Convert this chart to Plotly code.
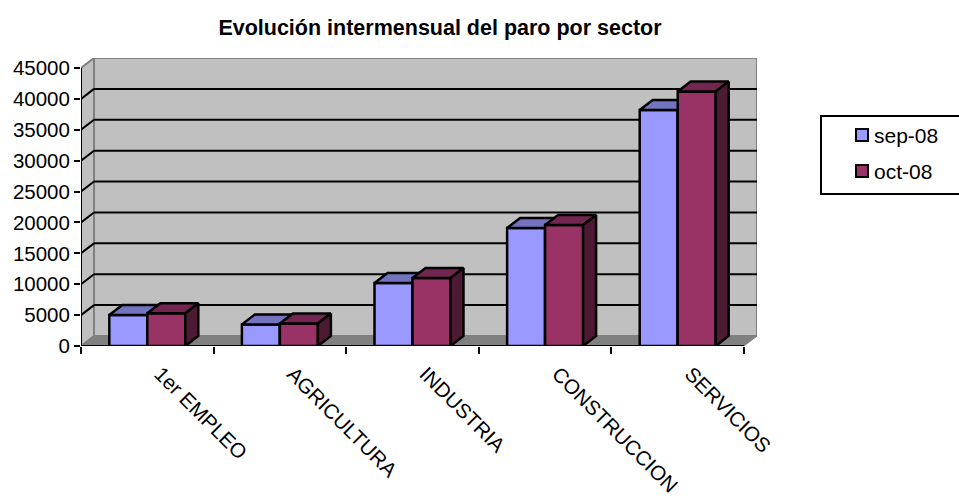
import plotly.graph_objects as go

categories = ["1er EMPLEO", "AGRICULTURA", "INDUSTRIA", "CONSTRUCCION", "SERVICIOS"]
sep_08 = [5000, 3500, 10200, 19100, 38200]
oct_08 = [5300, 3650, 11000, 19600, 41200]
y_ticks = [0, 5000, 10000, 15000, 20000, 25000, 30000, 35000, 40000, 45000]

FONT = "Liberation Sans"
BAR_W = 0.2865
# depth of the fake 3D box, in axis units
DX = 13 / 132.6
DY = 1618
Y_MAX = 45000
X_LO, X_HI = -0.5, 4.5
GREY = "#808080"
WALL = "#C0C0C0"
EDGE = 2.5


def faces(values, left, top_color, side_color, xaxis, yaxis):
    """Top and side faces of the bars of one series, as filled scatters."""
    top_x, top_y, side_x, side_y = [], [], [], []
    for i, v in enumerate(values):
        x0 = i + left
        x1 = x0 + BAR_W
        top_x += [x0, x0 + DX, x1 + DX, x1, x0, None]
        top_y += [v, v + DY, v + DY, v, v, None]
        side_x += [x1, x1 + DX, x1 + DX, x1, x1, None]
        side_y += [0, DY, v + DY, v, 0, None]
    common = dict(mode="lines", fill="toself", line=dict(color="black", width=EDGE),
                  showlegend=False, hoverinfo="skip", xaxis=xaxis, yaxis=yaxis)
    return [go.Scatter(x=top_x, y=top_y, fillcolor=top_color, **common),
            go.Scatter(x=side_x, y=side_y, fillcolor=side_color, **common)]


positions = list(range(len(categories)))

fig = go.Figure()
fig.add_trace(go.Bar(x=positions, y=sep_08, width=BAR_W, offset=-BAR_W, name="sep-08",
                     marker=dict(color="#9999FF", line=dict(color="black", width=EDGE)),
                     showlegend=False, xaxis="x", yaxis="y"))
for tr in faces(sep_08, -BAR_W, "#7373BF", "#4D4D80", "x", "y"):
    fig.add_trace(tr)
# second series sits on an overlaid subplot so it paints over the first one's faces
fig.add_trace(go.Bar(x=positions, y=oct_08, width=BAR_W, offset=0, name="oct-08",
                     marker=dict(color="#993366", line=dict(color="black", width=EDGE)),
                     showlegend=False, xaxis="x2", yaxis="y2"))
for tr in faces(oct_08, 0, "#732650", "#4D1A33", "x2", "y2"):
    fig.add_trace(tr)

shapes = [
    # back wall, left wall, floor
    dict(type="rect", x0=X_LO + DX, x1=X_HI + DX, y0=DY, y1=Y_MAX + DY,
         fillcolor=WALL, line=dict(color=GREY, width=2)),
    dict(type="path", path=f"M {X_LO} 0 L {X_LO} {Y_MAX} L {X_LO + DX} {Y_MAX + DY} L {X_LO + DX} {DY} Z",
         fillcolor=WALL, line=dict(color=GREY, width=2)),
    dict(type="path", path=f"M {X_LO} 0 L {X_HI} 0 L {X_HI + DX} {DY} L {X_LO + DX} {DY} Z",
         fillcolor=GREY, line=dict(color=GREY, width=1)),
]
for t in y_ticks[1:-1]:
    shapes.append(dict(type="line", x0=X_LO, y0=t, x1=X_LO + DX, y1=t + DY, line=dict(color="black", width=2)))
    shapes.append(dict(type="line", x0=X_LO + DX, y0=t + DY, x1=X_HI + DX, y1=t + DY, line=dict(color="black", width=2)))
for s in shapes:
    s.update(xref="x", yref="y", layer="below")

# axis lines stop at the front of the box, not at the end of the axis range
shapes.append(dict(type="line", xref="x", yref="y", x0=X_LO, x1=X_LO, y0=0, y1=Y_MAX, layer="below",
                   line=dict(color="black", width=2)))
shapes.append(dict(type="line", xref="x", yref="y", x0=X_LO, x1=X_HI, y0=0, y1=0, layer="above",
                   line=dict(color="black", width=2)))

# legend box, the right edge runs off the page
shapes.append(dict(type="rect", xref="paper", yref="paper", x0=(821 - 81) / 676, x1=(962 - 81) / 676,
                   y0=(346 - 194) / 288, y1=(346 - 116) / 288, fillcolor="white", line=dict(color="black", width=2)))
legend_items = [("sep-08", "#9999FF", 135), ("oct-08", "#993366", 171)]
annotations = []
for name, color, ypx in legend_items:
    shapes.append(dict(type="rect", xref="paper", yref="paper",
                       x0=(856 - 81) / 676, x1=(868 - 81) / 676,
                       y0=(346 - ypx - 6) / 288, y1=(346 - ypx + 6) / 288,
                       fillcolor=color, line=dict(color="black", width=2)))
    annotations.append(dict(text=name, xref="paper", yref="paper", x=(872 - 81) / 676, y=(346 - ypx) / 288,
                            xanchor="left", yanchor="middle", showarrow=False,
                            font=dict(family=FONT, size=21, color="black")))

fig.update_layout(
    width=959,
    height=498,
    margin=dict(l=81, r=202, t=58, b=152),
    paper_bgcolor="white",
    plot_bgcolor="white",
    showlegend=False,
    title=dict(text="<b>Evolución intermensual del paro por sector</b>", x=440 / 959, xanchor="center",
               y=1 - 27 / 498, yanchor="middle", font=dict(family=FONT, size=21.5, color="black")),
    shapes=shapes,
    annotations=annotations,
    xaxis=dict(range=[X_LO, X_HI + DX], tickmode="array", tickvals=positions, ticktext=categories, tickangle=45,
               ticks="", showgrid=False, zeroline=False, showline=False, automargin=False,
               ticklabelstandoff=11, ticklabelshift=13,
               tickfont=dict(family=FONT, size=20.5, color="black"),
               minor=dict(tickmode="array", tickvals=[i - 0.5 for i in range(len(categories) + 1)],
                          ticks="outside", ticklen=7, tickwidth=2, tickcolor="black", showgrid=False)),
    yaxis=dict(range=[0, Y_MAX + DY], tickmode="array", tickvals=y_ticks, ticktext=[str(t) for t in y_ticks],
               ticks="outside", ticklen=6, tickwidth=2, tickcolor="black", showgrid=False, zeroline=False,
               showline=False, automargin=False, tickfont=dict(family=FONT, size=20.5, color="black")),
    xaxis2=dict(range=[X_LO, X_HI + DX], overlaying="x", visible=False),
    yaxis2=dict(range=[0, Y_MAX + DY], overlaying="y", visible=False),
)

# the page's default body margin would push everything 8px in
fig.write_html("out.html", config=dict(displayModeBar=False), post_script="document.body.style.margin = '0';")
